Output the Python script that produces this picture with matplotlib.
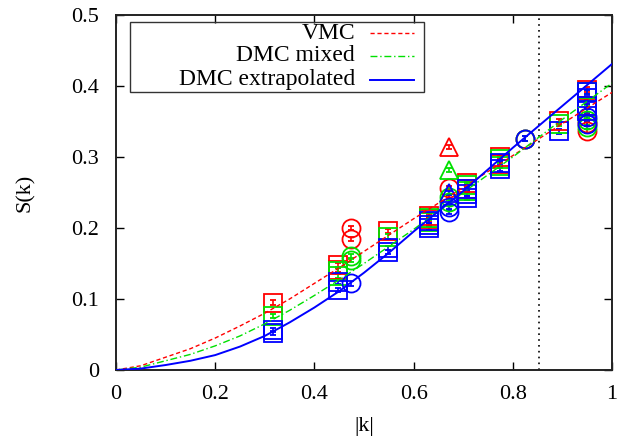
import matplotlib
matplotlib.use("Agg")
import matplotlib.pyplot as plt
from matplotlib.patches import Rectangle
from matplotlib.lines import Line2D

plt.rcParams['font.family'] = ['Liberation Serif', 'DejaVu Serif']
plt.rcParams['font.size'] = 16

# ---- fitted curves ----
curve_k = [0.0, 0.05, 0.1, 0.15, 0.2, 0.25, 0.3, 0.35, 0.4, 0.45, 0.5, 0.55, 0.6, 0.7, 0.8, 0.9, 1.0]
vmc_curve = [0.0, 0.006, 0.018, 0.030, 0.045, 0.062, 0.080, 0.100, 0.122, 0.144, 0.167, 0.190, 0.213, 0.257, 0.302, 0.347, 0.391]
mixed_curve = [0.0, 0.004, 0.013, 0.022, 0.034, 0.048, 0.065, 0.084, 0.105, 0.127, 0.150, 0.174, 0.198, 0.250, 0.300, 0.353, 0.404]
extrap_curve = [0.0, 0.002, 0.007, 0.013, 0.021, 0.033, 0.048, 0.067, 0.088, 0.111, 0.137, 0.165, 0.195, 0.252, 0.313, 0.372, 0.431]

# ---- data points: squares ----
vmc_sq_k = [0.316, 0.447, 0.447, 0.548, 0.632, 0.632, 0.707, 0.707, 0.775, 0.775, 0.894, 0.949, 0.949]
vmc_sq_s = [0.095, 0.148, 0.141, 0.196, 0.217, 0.212, 0.263, 0.255, 0.300, 0.290, 0.350, 0.395, 0.372]
mixed_sq_k = [0.316, 0.447, 0.447, 0.548, 0.632, 0.632, 0.707, 0.707, 0.775, 0.775, 0.894, 0.949, 0.949]
mixed_sq_s = [0.076, 0.140, 0.132, 0.188, 0.214, 0.209, 0.260, 0.252, 0.297, 0.288, 0.346, 0.392, 0.370]
extrap_sq_k = [0.316, 0.316, 0.447, 0.447, 0.548, 0.548, 0.632, 0.632, 0.632, 0.707, 0.707, 0.707,
               0.775, 0.775, 0.894, 0.949, 0.949, 0.949, 0.949]
extrap_sq_s = [0.056, 0.052, 0.124, 0.113, 0.172, 0.166, 0.210, 0.204, 0.200, 0.255, 0.248, 0.242,
               0.292, 0.283, 0.336, 0.392, 0.383, 0.372, 0.365]

# ---- data points: circles ----
vmc_ci_k = [0.474, 0.474, 0.671, 0.825, 0.949, 0.949]
vmc_ci_s = [0.1995, 0.185, 0.256, 0.326, 0.348, 0.337]
mixed_ci_k = [0.474, 0.474, 0.671, 0.671, 0.825, 0.949, 0.949]
mixed_ci_s = [0.160, 0.155, 0.244, 0.237, 0.326, 0.352, 0.342]
extrap_ci_k = [0.474, 0.671, 0.671, 0.825, 0.949, 0.949]
extrap_ci_s = [0.122, 0.230, 0.223, 0.326, 0.357, 0.346]

# ---- data points: triangles ----
vmc_tr_k = [0.671]
vmc_tr_s = [0.314]
mixed_tr_k = [0.671]
mixed_tr_s = [0.282]
extrap_tr_k = [0.671]
extrap_tr_s = [0.249]

cutoff_k = 0.852
labels = ["VMC", "DMC mixed", "DMC extrapolated"]
colors = ["#ff0000", "#00e000", "#0000ff"]

fig = plt.figure(figsize=(6.18, 4.41), dpi=100)
ax = fig.add_axes([116/618, 1-370/441, 496/618, 355/441])

err = 0.003
groups = [
    (colors[0], [(vmc_sq_k, vmc_sq_s, 's'), (vmc_ci_k, vmc_ci_s, 'o'), (vmc_tr_k, vmc_tr_s, '^')]),
    (colors[1], [(mixed_sq_k, mixed_sq_s, 's'), (mixed_ci_k, mixed_ci_s, 'o'), (mixed_tr_k, mixed_tr_s, '^')]),
    (colors[2], [(extrap_sq_k, extrap_sq_s, 's'), (extrap_ci_k, extrap_ci_s, 'o'), (extrap_tr_k, extrap_tr_s, '^')]),
]
for col, sets in groups:
    for kk, ss, mk in sets:
        ax.errorbar(kk, ss, yerr=[err]*len(ss), fmt=mk, mfc='none', mec=col, ecolor=col,
                    ms=13, mew=1.3, elinewidth=1.2, capsize=2, capthick=1.2, zorder=3)

ax.plot(curve_k, vmc_curve, color=colors[0], lw=1.0, ls=(0, (3, 2)), zorder=4)
ax.plot(curve_k, mixed_curve, color=colors[1], lw=1.0, ls=(0, (5, 2, 1, 2)), zorder=4)
ax.plot(curve_k, extrap_curve, color=colors[2], lw=1.4, ls='-', zorder=4)

ax.axvline(cutoff_k, color='black', lw=1.2, ls=(0, (1, 2.5)), zorder=2)

ax.set_xlim(0, 1)
ax.set_ylim(0, 0.5)
ax.set_xticks([0, 0.2, 0.4, 0.6, 0.8, 1.0])
ax.set_xticklabels(["0", "0.2", "0.4", "0.6", "0.8", "1"])
ax.set_yticks([0, 0.1, 0.2, 0.3, 0.4, 0.5])
ax.set_yticklabels(["0", "0.1", "0.2", "0.3", "0.4", "0.5"])
ax.tick_params(direction='in', top=True, right=True, length=6, width=1)
ax.tick_params(axis='x', pad=11)
ax.tick_params(axis='y', pad=12)
for sp in ax.spines.values():
    sp.set_linewidth(1.4)
    sp.set_color('#222222')

ax.set_xlabel("|k|", labelpad=9)
ax.set_ylabel("S(k)", labelpad=26)

# legend drawn manually (right-justified text, sample to the right)
box = Rectangle((0.028, 0.783), 0.592, 0.197, transform=ax.transAxes, fill=False,
                edgecolor='#333333', lw=1.0, zorder=5)
ax.add_patch(box)
row_y = [0.949, 0.885, 0.817]
styles = [dict(color=colors[0], lw=1.0, ls=(0, (3, 2))),
          dict(color=colors[1], lw=1.0, ls=(0, (5, 2, 1, 2))),
          dict(color=colors[2], lw=1.4, ls='-')]
for lab, yy, st in zip(labels, row_y, styles):
    ax.text(0.482, yy, lab, transform=ax.transAxes, ha='right', va='center', fontsize=17, zorder=6)
    ax.add_line(Line2D([0.512, 0.600], [yy, yy], transform=ax.transAxes, zorder=6, **st))

fig.savefig("out.png", dpi=100)
